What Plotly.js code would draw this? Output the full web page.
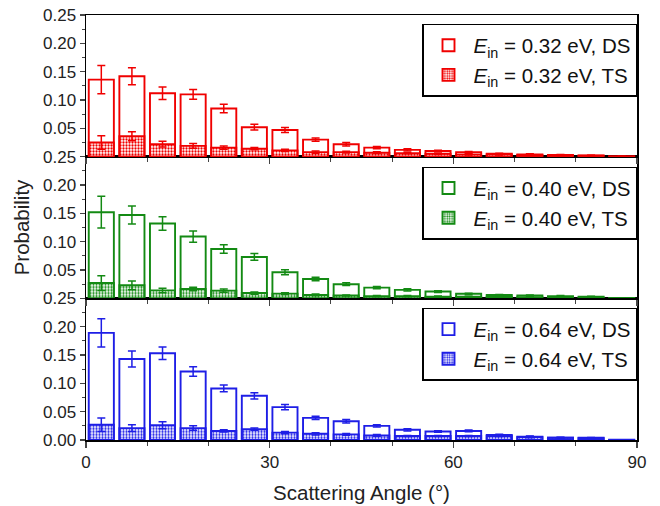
<!DOCTYPE html>
<html>
<head>
<meta charset="utf-8">
<script src="https://cdn.plot.ly/plotly-3.0.1.min.js"></script>
<style>html,body{margin:0;padding:0;background:#fff;}#chart{width:660px;height:506px;}</style>
</head>
<body>
<div id="chart"></div>
<script>
// Bin centres (scattering angle, degrees)
const angles = [2.5, 7.5, 12.5, 17.5, 22.5, 27.5, 32.5, 37.5, 42.5, 47.5, 52.5, 57.5, 62.5, 67.5, 72.5, 77.5, 82.5, 87.5];

// E_in = 0.32 eV
const ds032 = [0.136, 0.142, 0.112, 0.110, 0.085, 0.052, 0.047, 0.030, 0.022, 0.016, 0.012, 0.010, 0.008, 0.005, 0.004, 0.003, 0.002, 0.0005];
const ds032Err = [0.025, 0.015, 0.011, 0.0085, 0.0075, 0.005, 0.0045, 0.003, 0.003, 0.002, 0.002, 0.0015, 0.001, 0.001, 0.001, 0.001, 0.0005, 0];
const ts032 = [0.025, 0.036, 0.022, 0.019, 0.016, 0.014, 0.011, 0.008, 0.008, 0.007, 0.006, 0.005, 0.004, 0.004, 0.003, 0.002, 0.0015, 0.0003];
const ts032Err = [0.012, 0.008, 0.005, 0.004, 0.003, 0.002, 0.002, 0.002, 0.0015, 0.0015, 0.001, 0.001, 0.001, 0.001, 0.001, 0.0005, 0.0005, 0];

// E_in = 0.40 eV
const ds040 = [0.152, 0.147, 0.132, 0.109, 0.087, 0.073, 0.046, 0.034, 0.025, 0.019, 0.015, 0.012, 0.008, 0.006, 0.005, 0.004, 0.003, 0.0005];
const ds040Err = [0.028, 0.016, 0.012, 0.010, 0.0075, 0.006, 0.0045, 0.003, 0.0025, 0.002, 0.002, 0.0015, 0.001, 0.001, 0.001, 0.001, 0.0005, 0];
const ts040 = [0.027, 0.023, 0.014, 0.0165, 0.0136, 0.0094, 0.0083, 0.006, 0.005, 0.004, 0.004, 0.003, 0.003, 0.003, 0.002, 0.002, 0.001, 0.0003];
const ts040Err = [0.013, 0.0077, 0.004, 0.003, 0.003, 0.002, 0.0015, 0.0015, 0.001, 0.001, 0.001, 0.001, 0.0005, 0.0005, 0.0005, 0.0005, 0.0005, 0];

// E_in = 0.64 eV
const ds064 = [0.189, 0.143, 0.153, 0.121, 0.091, 0.078, 0.058, 0.039, 0.033, 0.025, 0.018, 0.015, 0.016, 0.009, 0.006, 0.004, 0.004, 0.0005];
const ds064Err = [0.025, 0.014, 0.011, 0.0085, 0.006, 0.0055, 0.0045, 0.003, 0.003, 0.002, 0.002, 0.0015, 0.0015, 0.001, 0.001, 0.001, 0.0005, 0];
const ts064 = [0.027, 0.021, 0.026, 0.021, 0.016, 0.019, 0.013, 0.011, 0.010, 0.008, 0.007, 0.007, 0.007, 0.007, 0.005, 0.004, 0.003, 0.0003];
const ts064Err = [0.012, 0.006, 0.006, 0.004, 0.002, 0.002, 0.002, 0.002, 0.0015, 0.0015, 0.001, 0.001, 0.001, 0.001, 0.001, 0.0005, 0.0005, 0];

const xTickVals = [0, 30, 60, 90];
const yTickValsUpper = [0.05, 0.10, 0.15, 0.20, 0.25];
const yTickValsBottom = [0.00, 0.05, 0.10, 0.15, 0.20, 0.25];

const FONT = 'Liberation Sans, Arial, sans-serif';

function bar(y, err, name, line, fill, pattern, xa, ya, leg) {
  const marker = {color: fill, line: {color: line, width: 1.9}};
  if (pattern) marker.pattern = {shape: '.', fgcolor: line, size: 3, solidity: 0.45};
  return {
    type: 'bar', x: angles, y: y, width: 4.1, name: name,
    xaxis: xa, yaxis: ya, legend: leg,
    marker: marker,
    error_y: {type: 'data', array: err, visible: true, color: line, thickness: 1.5, width: 4}
  };
}
const lbl = (e, k) => '<i>E</i><sub>in</sub> = ' + e + ' eV, ' + k;

const RED = '#f00000', GREEN = '#138a13', BLUE = '#1e1ee6';
const data = [
  bar(ds032, ds032Err, lbl('0.32', 'DS'), RED, '#ffffff', false, 'x3', 'y3', 'legend'),
  bar(ts032, ts032Err, lbl('0.32', 'TS'), RED, '#ff9c9c', true, 'x3', 'y3', 'legend'),
  bar(ds040, ds040Err, lbl('0.40', 'DS'), GREEN, '#ffffff', false, 'x2', 'y2', 'legend2'),
  bar(ts040, ts040Err, lbl('0.40', 'TS'), GREEN, '#8fd08f', true, 'x2', 'y2', 'legend2'),
  bar(ds064, ds064Err, lbl('0.64', 'DS'), BLUE, '#ffffff', false, 'x', 'y', 'legend3'),
  bar(ts064, ts064Err, lbl('0.64', 'TS'), BLUE, '#a0a0ff', true, 'x', 'y', 'legend3')
];

const xBase = {
  range: [0, 90], tickvals: xTickVals, ticks: 'outside', ticklen: 6, tickwidth: 1.3,
  minor: {dtick: 10, tick0: 0, ticks: 'outside', ticklen: 4, tickwidth: 1.2},
  showline: true, linecolor: '#000', linewidth: 1.5, mirror: true, showgrid: false, zeroline: false,
  tickfont: {family: FONT, size: 17, color: '#222'}
};
const yBase = {
  range: [0, 0.25], ticks: 'outside', ticklen: 5, tickwidth: 1.3, tickformat: '.2f',
  minor: {dtick: 0.025, tick0: 0, ticks: 'outside', ticklen: 3, tickwidth: 1.2},
  showline: true, linecolor: '#000', linewidth: 1.5, mirror: true, showgrid: false, zeroline: false,
  tickfont: {family: FONT, size: 17, color: '#222'}
};
const legBase = {
  xanchor: 'right', yanchor: 'top', x: 1,
  bgcolor: '#ffffff', bordercolor: '#000', borderwidth: 1.5,
  font: {family: FONT, size: 20.5, color: '#111'}, tracegroupgap: 0, itemwidth: 40
};

const layout = {
  width: 660, height: 506,
  margin: {l: 86, r: 23, t: 15, b: 66},
  paper_bgcolor: '#fff', plot_bgcolor: '#fff',
  barmode: 'overlay', bargap: 0,
  font: {family: FONT, color: '#222'},
  xaxis: Object.assign({}, xBase, {anchor: 'y',
    title: {text: 'Scattering Angle (°)', font: {family: FONT, size: 20.5, color: '#222'}, standoff: 14}}),
  xaxis2: Object.assign({}, xBase, {anchor: 'y2', matches: 'x', showticklabels: false}),
  xaxis3: Object.assign({}, xBase, {anchor: 'y3', matches: 'x', showticklabels: false}),
  xaxis4: {overlaying: 'x3', anchor: 'y3', side: 'top', range: [0, 90], tickvals: xTickVals,
    ticks: 'inside', ticklen: 6, tickwidth: 1.3, showticklabels: false, showline: false, showgrid: false, zeroline: false,
    minor: {dtick: 10, tick0: 0, ticks: 'inside', ticklen: 4, tickwidth: 1.2}},
  yaxis: Object.assign({}, yBase, {domain: [0, 0.3333], anchor: 'x', tickvals: yTickValsBottom}),
  yaxis2: Object.assign({}, yBase, {domain: [0.3333, 0.6667], anchor: 'x2', tickvals: yTickValsUpper,
    title: {text: 'Probability', font: {family: FONT, size: 20.5, color: '#222'}, standoff: 8}}),
  yaxis3: Object.assign({}, yBase, {domain: [0.6667, 1], anchor: 'x3', tickvals: yTickValsUpper}),
  legend: Object.assign({}, legBase, {y: 0.979}),
  legend2: Object.assign({}, legBase, {y: 0.643}),
  legend3: Object.assign({}, legBase, {y: 0.311}),
  showlegend: true
};

Plotly.newPlot('chart', data, layout, {staticPlot: true, displayModeBar: false});
</script>
</body>
</html>
